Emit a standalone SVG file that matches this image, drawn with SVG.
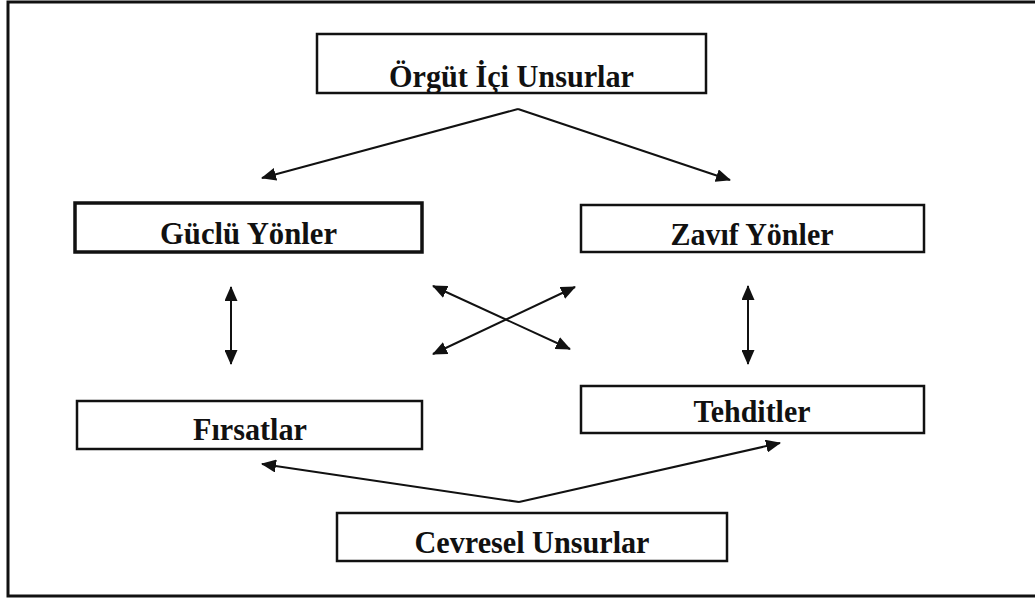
<svg xmlns="http://www.w3.org/2000/svg" width="1035" height="599" viewBox="0 0 1035 599">
  <style>
    .box { fill: #ffffff; stroke: #111111; stroke-width: 2.5; }
    .box.heavy { stroke-width: 3.5; }
    .label { font-family: "Liberation Serif", "Times New Roman", serif; font-weight: bold; font-size: 32px; fill: #111111; text-anchor: middle; }
    .link { fill: none; stroke: #111111; stroke-width: 2; }
    .one { marker-end: url(#head); }
    .two { marker-start: url(#head); marker-end: url(#head); }
  </style>
  <defs>
    <marker id="head" markerUnits="userSpaceOnUse" markerWidth="16" markerHeight="13" refX="14" refY="6.5" orient="auto-start-reverse">
      <path d="M0,0 L15,6.5 L0,13 Z" fill="#111111"/>
    </marker>
  </defs>

  <rect width="1035" height="599" fill="#ffffff"/>
  <!-- outer frame -->
  <rect x="8" y="2" width="1040" height="594" fill="none" stroke="#111111" stroke-width="3"/>

  <g id="connectors">
    <!-- internal factors to strengths / weaknesses -->
    <line class="link one" x1="518" y1="109" x2="262" y2="178"/>
    <line class="link one" x1="518" y1="109" x2="730" y2="180"/>
    <!-- vertical pairs -->
    <line class="link two" x1="231" y1="287" x2="231" y2="364"/>
    <line class="link two" x1="748" y1="286" x2="748" y2="364"/>
    <!-- cross links -->
    <line class="link two" x1="433" y1="286" x2="570" y2="349"/>
    <line class="link two" x1="575" y1="287" x2="433" y2="354"/>
    <!-- environmental factors to opportunities / threats -->
    <line class="link one" x1="519" y1="502" x2="262" y2="464"/>
    <line class="link one" x1="519" y1="502" x2="780" y2="443"/>
  </g>

  <g id="orgut-ici">
    <rect class="box" x="317" y="34" width="389" height="59"/>
    <text class="label" x="511.5" y="87" textLength="245" lengthAdjust="spacingAndGlyphs">Örgüt İçi Unsurlar</text>
  </g>

  <g id="guclu">
    <rect class="box heavy" x="75" y="203" width="347" height="49"/>
    <text class="label" x="248.5" y="244" textLength="177" lengthAdjust="spacingAndGlyphs">Güclü Yönler</text>
  </g>

  <g id="zayif">
    <rect class="box" x="581" y="205" width="343" height="47"/>
    <text class="label" x="752" y="245" textLength="163" lengthAdjust="spacingAndGlyphs">Zavıf Yönler</text>
  </g>

  <g id="firsatlar">
    <rect class="box" x="77" y="401" width="345" height="48"/>
    <text class="label" x="250" y="440" textLength="114" lengthAdjust="spacingAndGlyphs">Fırsatlar</text>
  </g>

  <g id="tehditler">
    <rect class="box" x="581" y="386" width="343" height="47"/>
    <text class="label" x="752" y="422" textLength="117" lengthAdjust="spacingAndGlyphs">Tehditler</text>
  </g>

  <g id="cevresel">
    <rect class="box" x="337" y="513" width="390" height="48"/>
    <text class="label" x="532" y="553" textLength="235" lengthAdjust="spacingAndGlyphs">Cevresel Unsurlar</text>
  </g>
</svg>
